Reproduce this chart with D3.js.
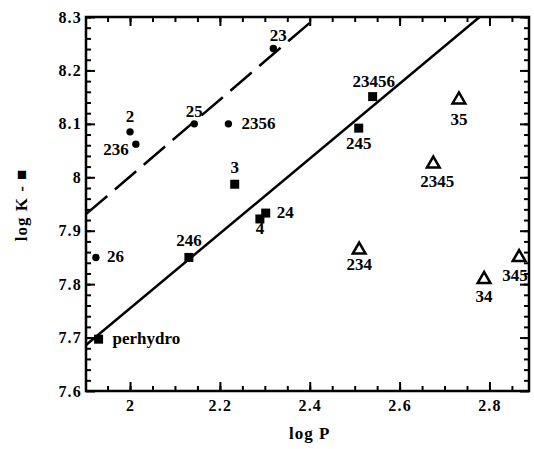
<!DOCTYPE html>
<html>
<head>
<meta charset="utf-8">
<script src="https://cdn.jsdelivr.net/npm/d3@7"></script>
<style>
  body { margin: 0; background: #fff; }
  text { font-family: "Liberation Serif", "Times New Roman", serif; font-weight: bold; fill: #000; }
  .axis path { display: none; }
  .axis line { stroke: #000; stroke-width: 2; }
</style>
</head>
<body>
<div id="chart-area"></div>
<script>
// data
const circleNames = ["2", "236", "25", "2356", "23", "26"]
const circleLogP = [2.000, 2.013, 2.143, 2.219, 2.319, 1.924]
const circleLogK = [8.085, 8.062, 8.100, 8.100, 8.241, 7.850]

const squareNames = ["perhydro", "246", "3", "4", "24", "245", "23456"]
const squareLogP = [1.930, 2.131, 2.233, 2.289, 2.302, 2.509, 2.540]
const squareLogK = [7.697, 7.850, 7.987, 7.922, 7.933, 8.092, 8.151]

const triangleNames = ["35", "2345", "234", "34", "345"]
const triangleLogP = [2.732, 2.675, 2.510, 2.788, 2.866]
const triangleLogK = [8.145, 8.025, 7.864, 7.809, 7.850]

const solidLineP = [1.902, 2.778]
const solidLineK = [7.686, 8.300]
const dashLineP = [1.902, 2.400]
const dashLineK = [7.931, 8.289]

const xTicks = [2, 2.2, 2.4, 2.6, 2.8]
const yTicks = [7.6, 7.7, 7.8, 7.9, 8, 8.1, 8.2, 8.3]

// label placement (pixels from the mark)
const labelPos = {
  "2": [0, -10, "middle"], "236": [-7, 11, "end"], "25": [0, -7, "middle"],
  "2356": [13, 5, "start"], "23": [5, -8, "middle"], "26": [11, 5, "start"],
  "perhydro": [14, 5, "start"], "246": [0, -11, "middle"], "3": [0, -11, "middle"],
  "4": [0, 15, "middle"], "24": [11, 5, "start"], "245": [0, 21, "middle"],
  "23456": [1, -10, "middle"], "35": [0, 25, "middle"], "2345": [4, 23, "middle"],
  "234": [0, 20, "middle"], "34": [0, 23, "middle"], "345": [-4, 24, "middle"]
}

const MARGIN = { LEFT: 86, RIGHT: 5, TOP: 17, BOTTOM: 58 }
const WIDTH = 534 - MARGIN.LEFT - MARGIN.RIGHT
const HEIGHT = 449 - MARGIN.TOP - MARGIN.BOTTOM

const svg = d3.select("#chart-area").append("svg")
  .attr("width", 534)
  .attr("height", 449)

const g = svg.append("g")
  .attr("transform", `translate(${MARGIN.LEFT}, ${MARGIN.TOP})`)

// Scales
const x = d3.scaleLinear().domain([1.902, 2.888]).range([0, WIDTH])
const y = d3.scaleLinear().domain([7.6, 8.3]).range([HEIGHT, 0])

const xMinor = d3.range(1.95, 2.88, 0.05)
const yMinor = d3.range(7.62, 8.3, 0.02)
const fmt = d3.format("~g")

// ticks point inward on all four sides
function addAxis(axisFn, scale, transform, major, minor, pad) {
  const majorAxis = axisFn(scale).tickValues(major).tickSize(-9).tickPadding(pad || 0)
    .tickFormat(pad ? fmt : "")
  g.append("g").attr("class", "axis").attr("transform", transform).call(majorAxis)
  g.append("g").attr("class", "axis").attr("transform", transform)
    .call(axisFn(scale).tickValues(minor).tickSize(-5).tickFormat(""))
}
addAxis(d3.axisBottom, x, `translate(0, ${HEIGHT})`, xTicks, xMinor, 9)
addAxis(d3.axisTop, x, "translate(0, 0)", xTicks, xMinor, 0)
addAxis(d3.axisLeft, y, "translate(0, 0)", yTicks, yMinor, 4)
addAxis(d3.axisRight, y, `translate(${WIDTH}, 0)`, yTicks, yMinor, 0)

g.selectAll(".axis text")
  .attr("font-size", "16px")
  .attr("letter-spacing", "1.2px")
  .style("font-family", "'Liberation Serif', serif")
  .style("font-weight", "bold")

// frame
g.append("rect")
  .attr("width", WIDTH)
  .attr("height", HEIGHT)
  .attr("fill", "none")
  .attr("stroke", "#000")
  .attr("stroke-width", 2.5)

// Labels
g.append("text")
  .attr("x", x(2.4))
  .attr("y", HEIGHT + 48)
  .attr("font-size", "17px")
  .attr("letter-spacing", "1px")
  .attr("text-anchor", "middle")
  .text("log P")
g.append("text")
  .attr("transform", "rotate(-90)")
  .attr("x", -(205 - MARGIN.TOP))
  .attr("y", -59)
  .attr("font-size", "17px")
  .attr("letter-spacing", "1px")
  .attr("text-anchor", "middle")
  .text("log K - \u25A0")

// fitted lines
const line = d3.line().x(d => x(d[0])).y(d => y(d[1]))
g.append("path")
  .datum(d3.zip(solidLineP, solidLineK))
  .attr("d", line)
  .attr("fill", "none")
  .attr("stroke", "#000")
  .attr("stroke-width", 2.5)
g.append("path")
  .datum(d3.zip(dashLineP, dashLineK))
  .attr("d", line)
  .attr("fill", "none")
  .attr("stroke", "#000")
  .attr("stroke-width", 2.5)
  .attr("stroke-dasharray", "28,10")

// marks
const circles = circleNames.map((n, i) => ({ name: n, p: circleLogP[i], k: circleLogK[i] }))
const squares = squareNames.map((n, i) => ({ name: n, p: squareLogP[i], k: squareLogK[i] }))
const triangles = triangleNames.map((n, i) => ({ name: n, p: triangleLogP[i], k: triangleLogK[i] }))

g.selectAll("circle.pt").data(circles).enter().append("circle")
  .attr("class", "pt")
  .attr("cx", d => x(d.p))
  .attr("cy", d => y(d.k))
  .attr("r", 3.7)
  .attr("fill", "#000")

g.selectAll("rect.pt").data(squares).enter().append("rect")
  .attr("class", "pt")
  .attr("x", d => x(d.p) - 4.5)
  .attr("y", d => y(d.k) - 4.5)
  .attr("width", 9)
  .attr("height", 9)
  .attr("fill", "#000")

g.selectAll("path.tri").data(triangles).enter().append("path")
  .attr("class", "tri")
  .attr("d", d3.symbol(d3.symbolTriangle, 70))
  .attr("transform", d => `translate(${x(d.p)}, ${y(d.k)})`)
  .attr("fill", "#fff")
  .attr("stroke", "#000")
  .attr("stroke-width", 2.5)

g.selectAll("text.lab").data(circles.concat(squares, triangles)).enter().append("text")
  .attr("class", "lab")
  .attr("x", d => x(d.p) + labelPos[d.name][0])
  .attr("y", d => y(d.k) + labelPos[d.name][1])
  .attr("text-anchor", d => labelPos[d.name][2])
  .attr("font-size", "17px")
  .text(d => d.name)
</script>
</body>
</html>
